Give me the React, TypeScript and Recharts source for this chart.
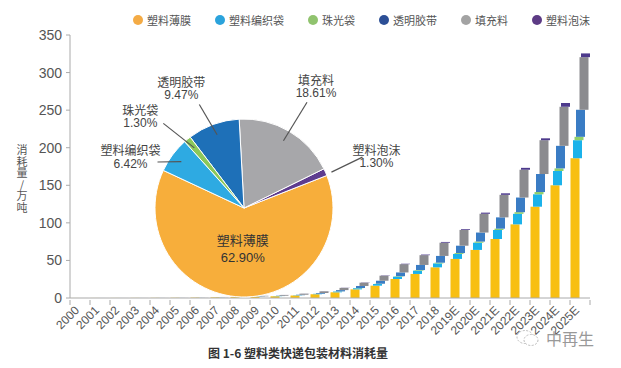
import React from 'react';
import { BarChart, Bar, XAxis, YAxis, PieChart, Pie, Cell } from 'recharts';

const YEARS = [
  '2000', '2001', '2002', '2003', '2004', '2005', '2006', '2007', '2008', '2009', '2010', '2011', '2012',
  '2013', '2014', '2015', '2016', '2017', '2018', '2019E', '2020E', '2021E', '2022E', '2023E', '2024E', '2025E',
];

// 万吨
const FILM = [0.05, 0.08, 0.1, 0.15, 0.2, 0.3, 0.5, 0.8, 1.1, 1.7, 2.3, 3.3, 5, 7.6, 11.5, 16.4, 25.3, 32, 40.8, 52, 64, 78.5, 98, 121.5, 150, 186];
const WOVEN = [0.01, 0.01, 0.01, 0.02, 0.02, 0.03, 0.05, 0.08, 0.12, 0.18, 0.25, 0.35, 0.55, 1, 1.5, 2.2, 3.1, 4.4, 5.2, 6.6, 9.6, 12, 14, 16.5, 19, 24];
const PEARL = [0, 0, 0, 0, 0, 0.01, 0.01, 0.02, 0.03, 0.04, 0.05, 0.07, 0.12, 0.2, 0.3, 0.4, 0.6, 0.8, 1, 1.2, 1.5, 1.8, 2.2, 3, 3.5, 4.5];
const TAPE = [0.01, 0.02, 0.02, 0.03, 0.05, 0.06, 0.1, 0.15, 0.2, 0.3, 0.45, 0.65, 1, 1.7, 2.7, 4, 5, 6.8, 9, 9.8, 12, 15, 19.5, 24, 30, 36];
const FILLER = [0.02, 0.03, 0.04, 0.06, 0.08, 0.12, 0.2, 0.3, 0.45, 0.7, 1, 1.4, 2.2, 3, 4.4, 6.7, 11, 13, 17.6, 21, 25, 30, 37, 45, 52, 70];
const FOAM = [0, 0, 0, 0, 0, 0.01, 0.01, 0.02, 0.02, 0.03, 0.05, 0.07, 0.1, 0.2, 0.3, 0.4, 0.6, 0.8, 1, 1, 1.5, 2, 2.5, 2.5, 5, 5];

const Y_TICKS = [0, 50, 100, 150, 200, 250, 300, 350];

// pie shares (%)
const SHARE_NAMES = ['塑料薄膜', '塑料泡沫', '填充料', '透明胶带', '珠光袋', '塑料编织袋'];
const SHARE_VALUES = [62.9, 1.3, 18.61, 9.47, 1.3, 6.42];

const LEGEND_NAMES = ['塑料薄膜', '塑料编织袋', '珠光袋', '透明胶带', '填充料', '塑料泡沫'];

const FONT = '"Liberation Sans", "Noto Sans CJK SC", sans-serif';
const CJK = '"Noto Sans CJK SC", "Liberation Sans", sans-serif';

const BAR_COLORS = {
  film: '#f8bf12',
  woven: '#1bb2ea',
  pearl: '#8fd06a',
  tape: '#3a7cc4',
  filler: '#8b8b8f',
  foam: '#4d3a8c',
};

const PIE_COLORS: Record<string, string> = {
  '塑料薄膜': '#f7ae3b',
  '塑料编织袋': '#2eaae2',
  '珠光袋': '#8cc85a',
  '透明胶带': '#1e70b8',
  '填充料': '#a7a7aa',
  '塑料泡沫': '#5e3c8f',
};

const LEGEND_COLORS = ['#f4ab45', '#2ba3dc', '#90c36e', '#2c4f96', '#a3a3a3', '#5d3b85'];

// where each pie label sits relative to the slice's outer edge
const LABEL_POS: Record<string, { tx: number; ty: number; lx: number; ly: number }> = {
  '塑料编织袋': { tx: -42, ty: 2, lx: -15, ly: 7 },
  '珠光袋': { tx: -47, ty: -23, lx: -24, ly: -16 },
  '透明胶带': { tx: -32, ty: -36, lx: -14, ly: -20 },
  '填充料': { tx: 27, ty: -45, lx: 18, ly: -29 },
  '塑料泡沫': { tx: 51, ty: -16, lx: 37, ly: -15 },
};

const data = YEARS.map((year, i) => ({
  year,
  film: FILM[i],
  woven: WOVEN[i],
  pearl: PEARL[i],
  tape: TAPE[i],
  filler: FILLER[i],
  foam: FOAM[i],
}));

const pieData = SHARE_NAMES.map((name, i) => ({ name, value: SHARE_VALUES[i] }));

// staggered stack: each layer drawn a bit further right
const shifted = (dx: number) => (props: any) => {
  const { x, y, width, height, fill } = props;
  if (!height || height <= 0) return <g />;
  return <rect x={x + dx} y={y} width={width} height={height} fill={fill} />;
};

const XTick = (props: any) => {
  const { x, y, payload, index } = props;
  const last = index === YEARS.length - 1;
  return (
    <g>
      <line x1={x - 10} y1={y} x2={x - 10} y2={y + 5} stroke="#aaa" />
      {last && <line x1={x + 10} y1={y} x2={x + 10} y2={y + 5} stroke="#aaa" />}
      <text
        x={x}
        y={y + 11}
        textAnchor="end"
        transform={`rotate(-45, ${x}, ${y + 11})`}
        fontSize={12}
        fill="#555"
        fontFamily={FONT}
      >
        {payload.value}
      </text>
    </g>
  );
};

const RADIAN = Math.PI / 180;

const PieLabel = (props: any) => {
  const { cx, cy, midAngle, outerRadius, name, value } = props;
  const cos = Math.cos(-midAngle * RADIAN);
  const sin = Math.sin(-midAngle * RADIAN);
  const pct = `${value.toFixed(2)}%`;
  if (name === '塑料薄膜') {
    const r = outerRadius * 0.45;
    const px = cx + r * cos;
    const py = cy + r * sin;
    return (
      <g fill="#333" fontSize={13} textAnchor="middle">
        <text x={px} y={py - 9} dominantBaseline="central" fontFamily={CJK}>{name}</text>
        <text x={px} y={py + 9} dominantBaseline="central" fontFamily={FONT}>{pct}</text>
      </g>
    );
  }
  const pos = LABEL_POS[name];
  const ox = cx + outerRadius * cos;
  const oy = cy + outerRadius * sin;
  const sx = cx + (outerRadius - 11) * cos;
  const sy = cy + (outerRadius - 11) * sin;
  const startX = name === '塑料泡沫' ? ox + 6 : sx;
  const startY = name === '塑料泡沫' ? oy : sy;
  return (
    <g>
      <line x1={startX} y1={startY} x2={ox + pos.lx} y2={oy + pos.ly} stroke="#555" strokeWidth={1.2} />
      <g fill="#444" fontSize={12} textAnchor="middle">
        <text x={ox + pos.tx} y={oy + pos.ty - 7} dominantBaseline="central" fontFamily={CJK}>{name}</text>
        <text x={ox + pos.tx} y={oy + pos.ty + 7} dominantBaseline="central" fontFamily={FONT}>{pct}</text>
      </g>
    </g>
  );
};

export default function App() {
  return (
    <div style={{ position: 'absolute', left: 0, top: 0, width: 621, height: 368, background: '#fff', overflow: 'hidden' }}>
      <BarChart width={621} height={368} data={data} margin={{ top: 35, right: 31, left: 30, bottom: 20 }} barSize={9}>
        <XAxis
          dataKey="year"
          interval={0}
          tick={<XTick />}
          tickLine={false}
          tickSize={0}
          axisLine={{ stroke: '#aaa' }}
          height={50}
        />
        <YAxis
          domain={[0, 350]}
          ticks={Y_TICKS}
          width={40}
          tickSize={4}
          tickMargin={4}
          axisLine={{ stroke: '#aaa' }}
          tickLine={{ stroke: '#aaa' }}
          tick={{ fill: '#555', fontSize: 14, fontFamily: FONT }}
        />
        <Bar dataKey="film" stackId="a" fill={BAR_COLORS.film} shape={shifted(-5.5)} isAnimationActive={false} />
        <Bar dataKey="woven" stackId="a" fill={BAR_COLORS.woven} shape={shifted(-3)} isAnimationActive={false} />
        <Bar dataKey="pearl" stackId="a" fill={BAR_COLORS.pearl} shape={shifted(-1.5)} isAnimationActive={false} />
        <Bar dataKey="tape" stackId="a" fill={BAR_COLORS.tape} shape={shifted(0)} isAnimationActive={false} />
        <Bar dataKey="filler" stackId="a" fill={BAR_COLORS.filler} shape={shifted(3.5)} isAnimationActive={false} />
        <Bar dataKey="foam" stackId="a" fill={BAR_COLORS.foam} shape={shifted(5)} isAnimationActive={false} />
      </BarChart>

      {/* legend */}
      <div
        style={{
          position: 'absolute', left: 133, top: 13, display: 'flex', gap: 24,
          fontFamily: CJK, fontSize: 11, color: '#555', lineHeight: '14px',
        }}
      >
        {LEGEND_NAMES.map((name, i) => (
          <div key={name} style={{ display: 'flex', alignItems: 'center', gap: 4 }}>
            <span style={{ width: 10, height: 10, borderRadius: 5, background: LEGEND_COLORS[i], display: 'inline-block' }} />
            <span>{name}</span>
          </div>
        ))}
      </div>

      <div style={{ position: 'absolute', left: 80, top: 55 }}>
        <PieChart width={340} height={260}>
          <Pie
            data={pieData}
            dataKey="value"
            cx={159}
            cy={148}
            outerRadius={89}
            startAngle={-205}
            endAngle={155}
            stroke="#fff"
            strokeWidth={1}
            label={PieLabel}
            labelLine={false}
            isAnimationActive={false}
          >
            {pieData.map((d) => (
              <Cell key={d.name} fill={PIE_COLORS[d.name]} />
            ))}
          </Pie>
        </PieChart>
      </div>

      {/* y axis title, one character per line */}
      <div
        style={{
          position: 'absolute', left: 16, top: 144, width: 12, wordBreak: 'break-all', lineBreak: 'anywhere',
          textAlign: 'center', fontFamily: CJK, fontSize: 11, lineHeight: '11.5px', color: '#555',
        }}
      >
        消耗量/万吨
      </div>

      <div style={{ position: 'absolute', left: 208, top: 344, fontFamily: CJK, fontSize: 12, fontWeight: 'bold', color: '#333' }}>
        图 1-6 塑料类快递包装材料消耗量
      </div>

      <div style={{ position: 'absolute', left: 516, top: 326, display: 'flex', alignItems: 'center', gap: 6, color: '#999' }}>
        <svg width={24} height={20}>
          <ellipse cx={9} cy={9} rx={8} ry={6.5} fill="none" stroke="#bbb" strokeWidth={1} strokeDasharray="2 1.5" />
          <ellipse cx={15} cy={12} rx={7} ry={5.5} fill="#fff" stroke="#bbb" strokeWidth={1} strokeDasharray="2 1.5" />
        </svg>
        <span style={{ fontFamily: CJK, fontSize: 16 }}>中再生</span>
      </div>
    </div>
  );
}
